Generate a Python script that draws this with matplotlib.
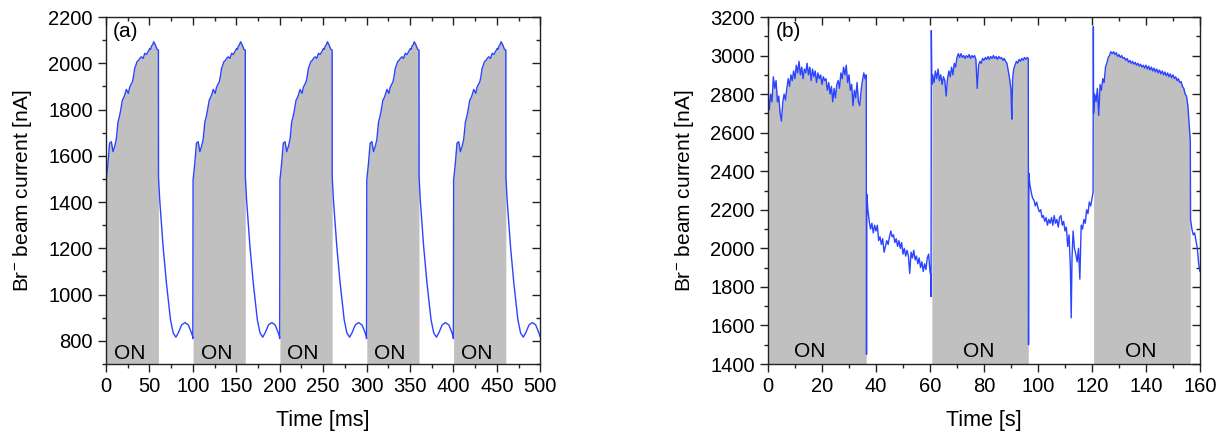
import numpy as np
import matplotlib
matplotlib.use("Agg")
import matplotlib.pyplot as plt
from matplotlib.ticker import MultipleLocator

plt.rcParams['font.family'] = ['Liberation Sans', 'DejaVu Sans']
plt.rcParams['mathtext.fontset'] = 'custom'
plt.rcParams['mathtext.rm'] = 'Liberation Sans'
plt.rcParams['mathtext.it'] = 'Liberation Sans'

# ---- (a) one 100 ms pulse cycle, repeated 5 times (time in ms, current in nA)
pulse_t = [0, 0.3, 2.3, 4.2, 6.2, 8.1, 10, 11.9, 13.9, 15.2, 16.6, 18.9, 20.3,
           21.6, 23.5, 25.8, 27.2, 28.5, 30.5, 31.8, 33.1, 34.5, 35.8, 37.4,
           38.9, 40.8, 42.7, 44.7, 46.6, 48.5, 50.4, 51.4, 52.4, 53.7, 55,
           56.9, 58.9, 60.4, 60.5, 61.9, 65.8, 69.6, 74.3, 77.4, 80.5, 83.2,
           87.1, 90.9, 94.8, 97.9, 99.8]
pulse_v = [810, 1495, 1569, 1655, 1661, 1618, 1640, 1671, 1747, 1765, 1790,
           1841, 1850, 1863, 1887, 1870, 1895, 1906, 1920, 1945, 1978, 1992,
           2007, 2012, 2021, 2028, 2021, 2043, 2038, 2050, 2064, 2060, 2074,
           2080, 2093, 2079, 2060, 2057, 1509, 1409, 1207, 1050, 891, 834,
           816, 834, 869, 879, 869, 840, 819]
cycle_start_a = [0, 100, 200, 300, 400]
on_a = (0.3, 60.4)

# ---- (b) time in s, current in nA
t_b = [0, 0.1, 0.2, 0.5, 1.0, 1.5, 2.0, 2.5, 3.0, 3.5, 4.0, 4.5, 5.0, 5.5, 6.0,
       6.5, 7.0, 7.5, 8.0, 8.5, 9.0, 9.5, 10.0, 10.5, 11.0, 11.5, 12.0, 12.5,
       13.0, 13.5, 14.0, 14.5, 15.0, 15.5, 16.0, 16.5, 17.0, 17.5, 18.0, 18.5,
       19.0, 19.5, 20.0, 20.5, 21.0, 21.5, 22.0, 22.5, 23.0, 23.5, 24.0, 24.5,
       25.0, 25.5, 26.0, 26.5, 27.0, 27.5, 28.0, 28.5, 29.0, 29.5, 30.0, 30.5,
       31.0, 31.5, 32.0, 32.5, 33.0, 33.5, 34.0, 34.5, 35.0, 35.5, 36.0, 36.4,
       36.5,
       36.6, 37.0, 37.5, 38.0, 38.5, 39.0, 39.5, 40.0, 40.5, 41.0, 41.5, 42.0,
       42.5, 43.0, 43.5, 44.0, 44.5, 45.0, 45.5, 46.0, 46.5, 47.0, 47.5, 48.0,
       48.5, 49.0, 49.5, 50.0, 50.5, 51.0, 51.5, 52.0, 52.5, 53.0, 53.5, 54.0,
       54.5, 55.0, 55.5, 56.0, 56.5, 57.0, 57.5, 58.0, 58.5, 59.0, 59.5, 60.0,
       60.3, 60.4,
       60.5, 60.7, 61.0, 61.5, 62.0, 62.5, 63.0, 63.5, 64.0, 64.5,
       65.0, 65.5, 66.0, 66.5, 67.0, 67.5, 68.0, 68.5, 69.0, 69.5, 70.0, 70.5,
       71.0, 71.5, 72.0, 72.5, 73.0, 73.5, 74.0, 74.5, 75.0, 75.5, 76.0, 76.5,
       77.0, 77.5, 78.0, 78.5, 79.0, 79.5, 80.0, 80.5, 81.0, 81.5, 82.0, 82.5,
       83.0, 83.5, 84.0, 84.5, 85.0, 85.5, 86.0, 86.5, 87.0, 87.5, 88.0, 88.5,
       89.0, 89.5, 90.0, 90.3, 90.6, 91.0, 91.5, 92.0, 92.5, 93.0, 93.5, 94.0,
       94.5, 95.0, 95.5, 96.0, 96.4, 96.5,
       96.6, 97.0, 97.5, 98.0, 98.5, 99.0,
       99.5, 100.0, 100.5, 101.0, 101.5, 102.0, 102.5, 103.0, 103.5, 104.0,
       104.5, 105.0, 105.5, 106.0, 106.5, 107.0, 107.5, 108.0, 108.5, 109.0,
       109.5, 110.0, 110.5, 111.0, 111.5, 112.0, 112.3, 112.6, 113.0, 113.5,
       114.0, 114.5, 115.0, 115.5, 116.0, 116.5, 117.0, 117.5, 118.0, 118.5,
       119.0, 119.5, 120.0, 120.4,
       120.5, 120.6, 121.0, 121.5, 122.0, 122.5,
       123.0, 123.5, 124.0, 124.5, 125.0, 125.5, 126.0, 126.5, 127.0, 127.5,
       128.0, 128.5, 129.0, 129.5, 130.0, 130.5, 131.0, 131.5, 132.0, 132.5,
       133.0, 133.5, 134.0, 134.5, 135.0, 135.5, 136.0, 136.5, 137.0, 137.5,
       138.0, 138.5, 139.0, 139.5, 140.0, 140.5, 141.0, 141.5, 142.0, 142.5,
       143.0, 143.5, 144.0, 144.5, 145.0, 145.5, 146.0, 146.5, 147.0, 147.5,
       148.0, 148.5, 149.0, 149.5, 150.0, 150.5, 151.0, 151.5, 152.0, 152.5,
       153.0, 153.5, 154.0, 154.5, 155.0, 155.5, 156.0, 156.4,
       156.5, 157.0, 157.5, 158.0, 158.5, 159.0, 159.5, 160.0]
v_b = [1750, 2950, 2780, 2720, 2800, 2760, 2890, 2830, 2870, 2760, 2790, 2700,
       2660, 2760, 2800, 2770, 2830, 2880, 2840, 2900, 2870, 2920, 2880, 2950,
       2910, 2970, 2900, 2940, 2880, 2930, 2910, 2960, 2900, 2940, 2870, 2930,
       2890, 2920, 2860, 2910, 2880, 2900, 2850, 2890, 2870, 2880, 2820, 2860,
       2800, 2840, 2760, 2830, 2780, 2850, 2870, 2830, 2910, 2880, 2940, 2900,
       2950, 2860, 2900, 2820, 2850, 2740, 2820, 2780, 2860, 2760, 2740, 2820,
       2870, 2910, 2880, 2900, 1450,
       2280, 2200, 2140, 2100, 2130, 2080, 2120, 2090, 2120, 2040, 2060, 2020,
       2050, 1980, 2010, 2040, 2020, 2060, 2090, 2060, 2070, 2030, 2050, 2010,
       2040, 2000, 2030, 1970, 2000, 1960, 1990, 1960, 1870, 1980, 1950, 1990,
       1940, 1960, 1920, 1950, 1900, 1930, 1880, 1920, 1890, 1950, 1970, 1880,
       1860, 1750,
       3130, 2850, 2900, 2860, 2920, 2880, 2930, 2870, 2900, 2850, 2890, 2870,
       2790, 2880, 2920, 2890, 2940, 2900, 2960, 2940, 2990, 3010, 2990, 3010,
       2990, 3000, 2985, 3000, 2990, 3005, 2985, 3000, 2990, 3000, 2980, 2830,
       2950, 2970, 2960, 2985, 2975, 2990, 2980, 2995, 2980, 2995, 2985, 3000,
       2985, 2995, 2980, 2995, 2985, 2990, 2975, 2985, 2970, 2960, 2920, 2880,
       2820, 2670, 2880, 2930, 2950, 2970, 2960, 2980, 2970, 2985, 2975, 2990,
       2980, 2990, 2985, 1500,
       2390, 2330, 2290, 2260, 2250, 2220, 2240, 2210, 2190, 2200, 2160, 2170,
       2140, 2160, 2120, 2150, 2130, 2160, 2120, 2170, 2130, 2150, 2110, 2160,
       2170, 2120, 2140, 2090, 2110, 2010, 2070, 1900, 1640, 1950, 2090, 2000,
       1970, 1930, 2000, 1840, 2120, 2100, 2150, 2130, 2200, 2180, 2240, 2220,
       2260, 2290,
       3150, 2700, 2800, 2760, 2830, 2690, 2850, 2820, 2880, 2860, 2940, 2960,
       2990, 3000, 3020, 3010, 3020, 3005, 3015, 2995, 3005, 2990, 3000, 2985,
       2990, 2975, 2985, 2965, 2975, 2960, 2970, 2955, 2965, 2950, 2960, 2945,
       2955, 2940, 2950, 2935, 2950, 2930, 2945, 2925, 2940, 2920, 2935, 2915,
       2930, 2910, 2925, 2905, 2920, 2900, 2915, 2895, 2910, 2890, 2905, 2885,
       2900, 2880, 2890, 2870, 2880, 2860, 2865, 2840, 2830, 2800, 2790, 2740,
       2640, 2560,
       2150, 2100, 2070, 2080, 2040, 2000, 1920, 1880]
on_b = [(0.2, 36.4), (60.7, 96.4), (120.6, 156.4)]

on_label_a = [27, 127, 227, 327, 427]
on_label_b = [15.5, 78, 138]

blue = '#2a44ff'
gray = '#c0c0c0'
ink = '#222222'

fig = plt.figure(figsize=(12.25, 4.36), dpi=100)
ax1 = fig.add_axes([0.0865, 0.1651, 0.3545, 0.7959])
ax2 = fig.add_axes([0.6269, 0.1651, 0.3527, 0.7959])

# panel (a)
t_a, v_a = [], []
for s in cycle_start_a:
    t_a += [s + x for x in pulse_t]
    v_a += pulse_v
t_a = np.array(t_a)
v_a = np.array(v_a)
for s in cycle_start_a:
    m = (t_a >= s + on_a[0]) & (t_a <= s + on_a[1])
    ax1.fill_between(t_a[m], 700, v_a[m], color=gray, lw=0, zorder=1)
ax1.plot(t_a, v_a, color=blue, lw=1.0, zorder=2)
for x in on_label_a:
    ax1.text(x, 745, 'ON', ha='center', va='center', fontsize=15)
ax1.set_xlim(0, 500)
ax1.set_ylim(700, 2200)
ax1.set_yticks(range(800, 2201, 200))
ax1.xaxis.set_major_locator(MultipleLocator(50))
ax1.xaxis.set_minor_locator(MultipleLocator(25))
ax1.yaxis.set_minor_locator(MultipleLocator(100))
ax1.set_xlabel('Time [ms]', fontsize=15.5, labelpad=10)
ax1.set_ylabel('Br$^{-}$ beam current [nA]', fontsize=15, labelpad=10)
ax1.text(0.015, 0.985, '(a)', transform=ax1.transAxes, ha='left', va='top',
         fontsize=15)

# panel (b)
t_b = np.array(t_b)
v_b = np.array(v_b)
for s, e in on_b:
    m = (t_b >= s) & (t_b <= e)
    ax2.fill_between(t_b[m], 1400, v_b[m], color=gray, lw=0, zorder=1)
ax2.plot(t_b, v_b, color=blue, lw=1.0, zorder=2)
for x in on_label_b:
    ax2.text(x, 1464, 'ON', ha='center', va='center', fontsize=15)
ax2.set_xlim(0, 160)
ax2.set_ylim(1400, 3200)
ax2.xaxis.set_major_locator(MultipleLocator(20))
ax2.xaxis.set_minor_locator(MultipleLocator(10))
ax2.yaxis.set_major_locator(MultipleLocator(200))
ax2.yaxis.set_minor_locator(MultipleLocator(100))
ax2.set_xlabel('Time [s]', fontsize=15.5, labelpad=10)
ax2.set_ylabel('Br$^{-}$ beam current [nA]', fontsize=15, labelpad=10)
ax2.text(0.018, 0.985, '(b)', transform=ax2.transAxes, ha='left', va='top',
         fontsize=15)

for ax, xmaj, xmin in [(ax1, 50, 25), (ax2, 20, 10)]:
    for sp in ax.spines.values():
        sp.set_linewidth(1.0)
        sp.set_color(ink)
    ax.tick_params(which='major', direction='out', length=5.5, width=1.0,
                   labelsize=14.5, color=ink, pad=4)
    ax.tick_params(which='minor', direction='out', length=3, width=1.0,
                   color=ink)
    top = ax.secondary_xaxis('top')
    top.xaxis.set_major_locator(MultipleLocator(xmaj))
    top.xaxis.set_minor_locator(MultipleLocator(xmin))
    top.tick_params(which='major', direction='in', length=5.5, width=1.0,
                    labeltop=False, color=ink)
    top.tick_params(which='minor', direction='in', length=3, width=1.0,
                    color=ink)
    right = ax.secondary_yaxis('right')
    right.yaxis.set_major_locator(MultipleLocator(200))
    right.yaxis.set_minor_locator(MultipleLocator(100))
    right.tick_params(which='major', direction='in', length=5.5, width=1.0,
                      labelright=False, color=ink)
    right.tick_params(which='minor', direction='in', length=3, width=1.0,
                      color=ink)
    for s in top.spines.values():
        s.set_visible(False)
    for s in right.spines.values():
        s.set_visible(False)

plt.savefig('out.png', dpi=100)
